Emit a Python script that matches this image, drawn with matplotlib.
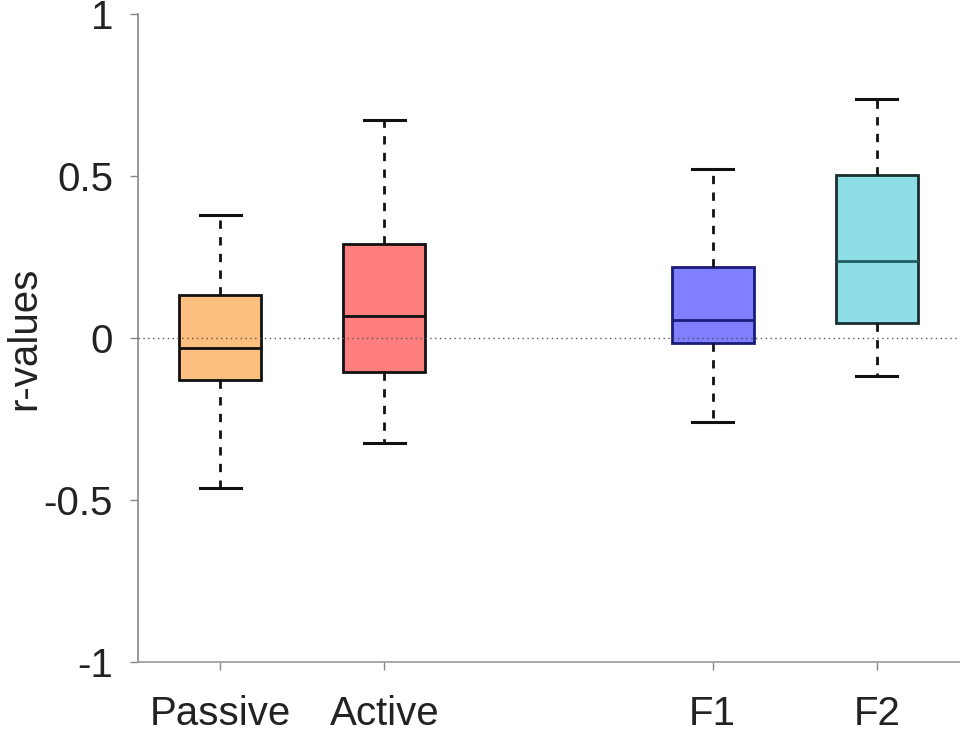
import matplotlib.pyplot as plt

plt.rcParams['font.family'] = ['Liberation Sans', 'DejaVu Sans']

# -------------------------------
# data
# -------------------------------
groups = ['Passive', 'Active', 'F1', 'F2']
positions = [1, 2, 4, 5]
whis_lo = [-0.463, -0.324, -0.259, -0.116]
q1 = [-0.130, -0.105, -0.014, 0.045]
median = [-0.032, 0.067, 0.056, 0.238]
q3 = [0.132, 0.290, 0.220, 0.504]
whis_hi = [0.379, 0.673, 0.521, 0.737]

face_colors = ['#FDBF7F', '#FF7F7F', '#7F7FFF', '#8EDEE6']
edge_colors = ['#111111', '#111111', '#1C1C78', '#1A2E30']
median_colors = ['#111111', '#111111', '#1C1C78', '#1F5C62']

yticks = [-1, -0.5, 0, 0.5, 1]
ytick_labels = ['-1', '-0.5', '0', '0.5', '1']

fig = plt.figure(figsize=(9.67, 7.34), dpi=100)
ax = fig.add_axes([0.1427, 0.098, 0.849, 0.883])

stats = []
for i in range(len(groups)):
    stats.append({'med': median[i], 'q1': q1[i], 'q3': q3[i],
                  'whislo': whis_lo[i], 'whishi': whis_hi[i], 'fliers': []})

for i in range(len(groups)):
    ax.bxp([stats[i]], positions=[positions[i]], widths=0.5, patch_artist=True,
           showfliers=False,
           boxprops=dict(facecolor=face_colors[i], edgecolor=edge_colors[i], linewidth=2.0),
           medianprops=dict(color=median_colors[i], linewidth=2.0),
           whiskerprops=dict(color='#111111', linewidth=2.0, linestyle=(0, (3, 3))),
           capprops=dict(color='#111111', linewidth=2.2),
           capwidths=0.25)

ax.axhline(0, color='#555555', linewidth=1.0, linestyle=(0, (1, 2.5)), zorder=5)

ax.set_xlim(0.5, 5.5)
ax.set_ylim(-1, 1)
ax.set_xticks(positions)
ax.set_xticklabels(groups)
ax.set_yticks(yticks)
ax.set_yticklabels(ytick_labels)
ax.set_ylabel('r-values', fontsize=29, color='#222222')
ax.yaxis.set_label_coords(-0.115, 0.5)

ax.tick_params(axis='both', labelsize=29, labelcolor='#222222', color='#888888',
               direction='out', length=6, width=1)
ax.tick_params(axis='x', pad=18)
ax.tick_params(axis='y', pad=12)

ax.spines['top'].set_visible(False)
ax.spines['right'].set_visible(False)
ax.spines['left'].set_color('#888888')
ax.spines['bottom'].set_color('#999999')
ax.spines['left'].set_linewidth(1.2)
ax.spines['bottom'].set_linewidth(1.2)

fig.savefig('out.png', dpi=100)
